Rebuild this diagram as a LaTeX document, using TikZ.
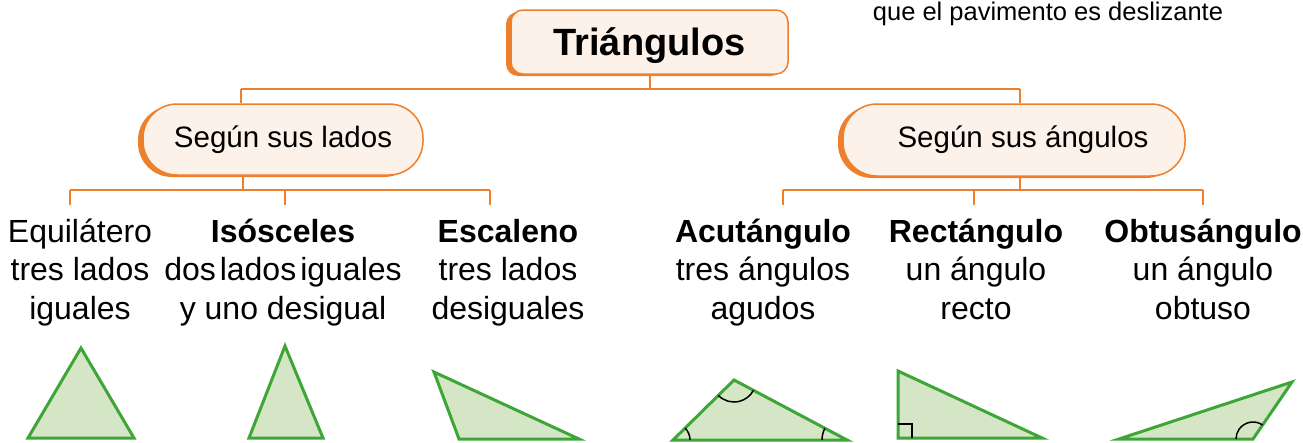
\documentclass[tikz,border=0pt]{standalone}
\usepackage{fontspec}
\setmainfont{Liberation Sans}
\usetikzlibrary{positioning,shadows,angles}
\definecolor{orangeline}{HTML}{EE7F2D}
\definecolor{peach}{HTML}{FDF2E9}
\definecolor{triline}{HTML}{3DA637}
\definecolor{trifill}{HTML}{D5E6C7}
\newcommand{\firstline}{\rule{0pt}{30pt}}

\begin{document}
\begin{tikzpicture}[x=1pt,y=-1pt,
  titlebox/.style={draw=orangeline,line width=1.5pt,fill=peach,inner sep=0pt,
    general shadow={fill=orangeline,shadow xshift=-5pt,shadow yshift=-2pt}},
  sortbox/.style={titlebox,rounded corners=34pt,font=\fontsize{29.5}{34}\selectfont},
  link/.style={draw=orangeline,line width=2pt},
  kind/.style={anchor=north,align=center,inner sep=0pt,font=\fontsize{32}{38.5}\selectfont},
  tri/.style={draw=triline,fill=trifill,line width=3pt,line join=miter},
  arcmark/.style={draw=black,line width=1.5pt}]
  \useasboundingbox (0,0) rectangle (1303,442);

  \node[anchor=base,font=\fontsize{25.5}{30}\selectfont] (note) at (1048,20) {que el pavimento es deslizante};

  % boxes
  \node[titlebox,rounded corners=12pt,minimum width=277pt,minimum height=64pt,
    text height=27pt,text depth=0pt,
    font=\fontsize{38}{44}\selectfont\bfseries] (title) at (649.5,42) {Triángulos};
  \node[sortbox,minimum width=280pt,minimum height=71pt] (lados) at (283,139.5) {Según sus lados};
  \node[sortbox,minimum width=342pt,minimum height=72pt] (angulos) at (1014,140) {\hspace*{18pt}Según sus ángulos};

  % tree
  \coordinate (jl) at (241,89);
  \coordinate (jr) at (1020,89);
  \draw[link] (title.south) -- (title.south |- jl);
  \draw[link] (jl) -- (jr);
  \draw[link] (jl) -- (jl |- lados.north);
  \draw[link] (jr) -- (jr |- angulos.north);

  \coordinate (kl) at (243,190);
  \coordinate (kr) at (1020,190);
  \draw[link] (lados.south -| kl) -- (kl);
  \draw[link] (angulos.south -| kr) -- (kr);

  \coordinate (d1) at (70,205);
  \coordinate (d2) at (285,205);
  \coordinate (d3) at (490,205);
  \coordinate (d4) at (783,205);
  \coordinate (d5) at (974,205);
  \coordinate (d6) at (1203,205);
  \draw[link] (d1 |- kl) -- (d3 |- kl);
  \draw[link] (d4 |- kr) -- (d6 |- kr);
  \foreach \d in {d1,d2,d3} \draw[link] (\d |- kl) -- (\d);
  \foreach \d in {d4,d5,d6} \draw[link] (\d |- kr) -- (\d);

  % kinds
  \node[kind] (equi) at (80,212) {\firstline Equilátero\\tres lados\\iguales};
  \node[kind] (isos) at (283,212) {\firstline\textbf{Isósceles}\\dos\hspace{4pt}lados\hspace{4pt}iguales\\y uno desigual};
  \node[kind] (esca) at (508,212) {\firstline\textbf{Escaleno}\\tres lados\\desiguales};
  \node[kind] (acut) at (763,212) {\firstline\textbf{Acutángulo}\\tres ángulos\\agudos};
  \node[kind] (rect) at (976,212) {\firstline\textbf{Rectángulo}\\un ángulo\\recto};
  \node[kind] (obtu) at (1203,212) {\firstline\textbf{Obtusángulo}\\un ángulo\\obtuso};

  % triangles
  \draw[tri] (28,438) -- (81,348) -- (134,438) -- cycle;
  \draw[tri] (249,438) -- (285,346) -- (323,438) -- cycle;
  \draw[tri] (434,372) -- (459,439) -- (579,439) -- cycle;

  \draw[tri] (673,440) coordinate (a1) -- (734,380) coordinate (a2) -- (847,440) coordinate (a3) -- cycle;
  \pic[arcmark,angle radius=17pt] {angle=a3--a1--a2};
  \pic[arcmark,angle radius=22pt] {angle=a1--a2--a3};
  \pic[arcmark,angle radius=25pt] {angle=a2--a3--a1};

  \draw[tri] (898,371) -- (898,438) -- (1042,438) -- cycle;
  \draw[arcmark] (898,424) -- (912,424) -- (912,438);

  \draw[tri] (1119,439) coordinate (o1) -- (1292,382) coordinate (o2) -- (1253,439) coordinate (o3) -- cycle;
  \pic[arcmark,angle radius=17pt] {angle=o2--o3--o1};
\end{tikzpicture}
\end{document}
